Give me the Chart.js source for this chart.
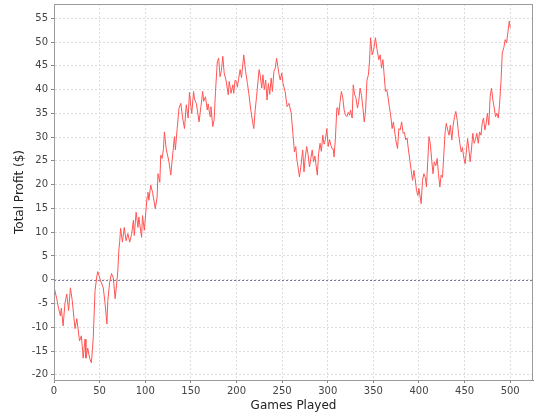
<!DOCTYPE html>
<html>
<head>
<meta charset="utf-8">
<script src="https://cdn.jsdelivr.net/npm/chart.js@4.4.0/dist/chart.umd.min.js"></script>
<style>
    html, body { margin: 0; padding: 0; background: #ffffff; }
    #box { width: 540px; height: 420px; }
</style>
</head>
<body>
<div id="box"><canvas id="chartProfit"></canvas></div>
<script>
// games played (x) and running profit (y)
const games = [
    0, 3, 5, 7, 8, 10, 12, 14, 16, 18, 20, 23, 25, 28, 30, 32, 34, 35, 37, 39,
    41, 43, 45, 47, 48, 51, 54, 56, 58, 59, 61, 63, 65, 67, 69, 70, 71, 72, 73, 75,
    77, 79, 81, 83, 85, 87, 88, 90, 92, 93, 96, 97, 99, 102, 103, 104, 106, 108, 111, 113,
    114, 116, 117, 118.5, 120, 121, 123, 126, 128, 129.5, 132, 133, 135, 137, 139, 141, 143, 145, 147, 148.5,
    150, 151, 153, 154, 156, 159, 161, 163, 164, 166, 168, 169, 171, 172, 174, 175.5, 177, 179, 180.5, 182,
    183.5, 185, 186.5, 188.5, 191, 192, 193.5, 194, 196, 197, 198.5, 200, 201, 202.5, 204, 205.5, 208, 210, 212, 213.5,
    215.7, 217, 219, 220.5, 222, 224.8, 226, 227.7, 229, 230.5, 232, 233.5, 235, 236.5, 238, 239.4, 241, 242.5, 244, 245.3,
    246.7, 248, 249.6, 251, 253.3, 255.5, 257.5, 260, 262, 263.5, 265, 266, 267.5, 269, 271, 272.6, 274, 275.5, 277, 278.5,
    280, 281.5, 283, 284.5, 286, 287, 288.6, 290, 291.6, 293, 294.6, 296, 297.5, 299, 300.5, 302, 303.4, 305, 306, 307,
    308.5, 310, 311, 312, 313.6, 315, 316.5, 318, 319.5, 321, 322.5, 324, 325, 326.8, 328, 329.5, 331, 332.6, 334, 335.5,
    337, 338.5, 340, 341.5, 343, 344.5, 345.7, 347, 348.7, 350.5, 352.3, 354, 356, 357.5, 359, 360.5, 362, 363.3, 364.7, 366,
    367.5, 369, 370.6, 372, 373.6, 375, 376.5, 378, 379.5, 381, 382.7, 384, 385.6, 387, 388.5, 390, 391.5, 393, 394.5, 396,
    397.3, 398.8, 400, 401.6, 402.4, 403.9, 405.4, 407, 408.2, 409.7, 411, 412.5, 414, 415.4, 416.8, 418.5, 420, 421.4, 422.9, 424.3,
    425.8, 427.3, 428.7, 430, 431.5, 433, 434.4, 436, 437.5, 439, 440.4, 442, 443.3, 444.8, 446.3, 447.7, 449, 450.6, 451.8, 453.3,
    454.7, 456.1, 457.5, 459, 460.5, 462, 463.4, 465, 466.4, 468, 469.3, 470.7, 472.3, 473.7, 475, 476.6, 478, 479.5, 481, 482.5,
    484, 485.4, 487, 488.3, 490, 491.3, 493, 494.5, 496, 497.4, 499, 500
];
const profit = [
    -1.5, -4, -6, -7.6, -6, -9.7, -5, -3, -6.5, -1.7, -4.4, -10.3, -8.2, -12.9, -11.8, -16.5, -12.5, -16.5, -14.4, -16.5,
    -17.5, -12.3, -2.3, 0.8, 1.7, -0.2, -1.7, -5, -9.3, -4.4, -0.6, 1.3, 0.4, -4, -0.2, 2, 6, 8, 10.8, 7.9,
    11, 8.2, 9.7, 7.9, 9.5, 12.5, 9.3, 14.2, 11, 13.2, 8.9, 13.5, 10.4, 17.4, 18.4, 16.7, 19.9, 18.4, 14.9, 17.4,
    22.3, 20.5, 26.2, 25.5, 27.6, 31.1, 27.5, 24.8, 22, 25.1, 30.1, 27.3, 31.8, 36.1, 37.1, 34, 31.8, 36.8, 34, 39.4,
    36.5, 35, 39.6, 38, 37.1, 33.2, 36.4, 39.6, 37.5, 38.5, 35.7, 37, 34.3, 36.4, 32.2, 33.6, 39.6, 45.9, 46.6, 42.7,
    44, 47, 43.5, 42, 38.9, 41.7, 40, 39.2, 41, 39.2, 42, 41.7, 40.5, 42.4, 44.2, 42.5, 47.3, 43.8, 41.3, 39.2,
    35.7, 34, 31.8, 35.7, 38.5, 44.2, 43, 40.3, 43.1, 40, 42, 37.8, 41.3, 39, 42.4, 39.6, 43.8, 44.5, 46.6, 44.9,
    43.1, 42, 43.5, 41.3, 39.6, 36.4, 37.1, 35, 30.4, 26.9, 28, 25.5, 23.7, 21.6, 24.5, 27.3, 22.7, 26, 28, 26.3,
    23.7, 25.5, 27.3, 24.8, 26, 24.4, 22, 26.5, 28.7, 27, 30.4, 28.5, 29.5, 31.8, 28, 29.5, 28.3, 27.5, 27.5, 25.8,
    30, 36.1, 36.2, 34.6, 37.5, 39.6, 38.3, 35.7, 34.6, 34.3, 35.2, 34.6, 35.7, 34, 41, 39, 38.2, 36.1, 37.5, 40.3,
    38.8, 36.3, 33.2, 35.5, 42, 43, 45.6, 50.9, 47.3, 48.5, 50.9, 48.5, 46.3, 47.3, 44.5, 46.3, 42.7, 39.6, 40, 38.5,
    36.4, 34.6, 31.8, 33.2, 30.8, 29, 27.6, 31.8, 31.5, 33.2, 30.8, 31, 29.4, 29.8, 27.3, 25.1, 23, 20.9, 23, 21,
    18.8, 17.7, 19.2, 17, 16, 20.9, 22.3, 21.5, 19.5, 25.1, 30.1, 28.5, 25.1, 22.3, 24.8, 24, 25.5, 22.3, 19.5, 22,
    21.5, 26.6, 31.1, 32.9, 31.5, 30.4, 32.5, 29.4, 32.5, 34.3, 35.4, 33.5, 30.8, 28.7, 26.9, 27.8, 25.8, 24.4, 26.6, 29.7,
    27.5, 24.8, 27.3, 30.8, 28.7, 29.5, 30.8, 28.7, 31.1, 30.4, 32.9, 34, 31.5, 32.9, 35, 32.5, 38.5, 40.3, 37.8, 36.1,
    34.3, 35, 34, 36.8, 42, 47.7, 48.8, 50.5, 49.8, 51.9, 54.4, 53
];
const xTicks = [0, 50, 100, 150, 200, 250, 300, 350, 400, 450, 500];
const yTicks = [-20, -15, -10, -5, 0, 5, 10, 15, 20, 25, 30, 35, 40, 45, 50, 55];

const FONT = 'DejaVu Sans, sans-serif';

// cadre du graphique + ligne du zéro
const framePlugin = {
    id: 'frame',
    beforeDatasetsDraw(chart) {
        const { ctx, chartArea: a, scales } = chart;
        const y0 = Math.round(scales.y.getPixelForValue(0)) + 0.5;
        ctx.save();
        ctx.strokeStyle = '#7a7a9e';
        ctx.lineWidth = 1;
        ctx.setLineDash([2, 2]);
        ctx.beginPath();
        ctx.moveTo(a.left, y0);
        ctx.lineTo(a.right, y0);
        ctx.stroke();
        ctx.restore();
    },
    afterDraw(chart) {
        const { ctx, chartArea: a } = chart;
        ctx.save();
        ctx.strokeStyle = '#9a9a9a';
        ctx.lineWidth = 1;
        ctx.strokeRect(Math.round(a.left) + 0.5, Math.round(a.top) + 0.5,
            Math.round(a.right - a.left) - 1, Math.round(a.bottom - a.top));
        ctx.restore();
    }
};

new Chart(document.getElementById('chartProfit'), {
    type: 'line',
    data: {
        datasets: [{
            label: 'Total Profit',
            data: games.map((g, i) => ({ x: g, y: profit[i] })),
            borderColor: 'rgb(255, 85, 85)',
            borderWidth: 1,
            pointRadius: 0,
            tension: 0,
            fill: false
        }]
    },
    plugins: [framePlugin],
    options: {
        responsive: true,
        maintainAspectRatio: false,
        animation: false,
        layout: { padding: { top: 4, right: 7, left: 0, bottom: 0 } },
        plugins: {
            legend: { display: false },
            tooltip: { enabled: false }
        },
        scales: {
            x: {
                type: 'linear',
                min: 0,
                max: 525,
                afterBuildTicks: axis => { axis.ticks = xTicks.map(v => ({ value: v })); },
                afterFit: axis => {
                    axis.height = 40;
                    axis.paddingLeft = 0;
                    axis.paddingRight = 0;
                },
                ticks: {
                    color: '#444',
                    font: { family: FONT, size: 10 },
                    padding: 2,
                    maxRotation: 0
                },
                grid: {
                    color: '#dcdcdc',
                    tickColor: '#888',
                    tickLength: 3,
                    drawTicks: true
                },
                border: { display: true, color: '#888', dash: [2, 2] },
                title: {
                    display: true,
                    text: 'Games Played',
                    color: '#222',
                    font: { family: FONT, size: 12 },
                    padding: { top: 0, bottom: 7 }
                }
            },
            y: {
                type: 'linear',
                min: -21.1,
                max: 58,
                afterBuildTicks: axis => { axis.ticks = yTicks.map(v => ({ value: v })); },
                afterFit: axis => {
                    axis.width = 54;
                    axis.paddingTop = 0;
                    axis.paddingBottom = 0;
                },
                ticks: {
                    color: '#444',
                    font: { family: FONT, size: 10 },
                    padding: 3
                },
                grid: {
                    color: '#dcdcdc',
                    tickColor: '#888',
                    tickLength: 3,
                    drawTicks: true
                },
                border: { display: true, color: '#888', dash: [2, 2] },
                title: {
                    display: true,
                    text: 'Total Profit ($)',
                    color: '#222',
                    font: { family: FONT, size: 12 },
                    padding: { top: 13, bottom: 0 }
                }
            }
        }
    }
});
</script>
</body>
</html>
